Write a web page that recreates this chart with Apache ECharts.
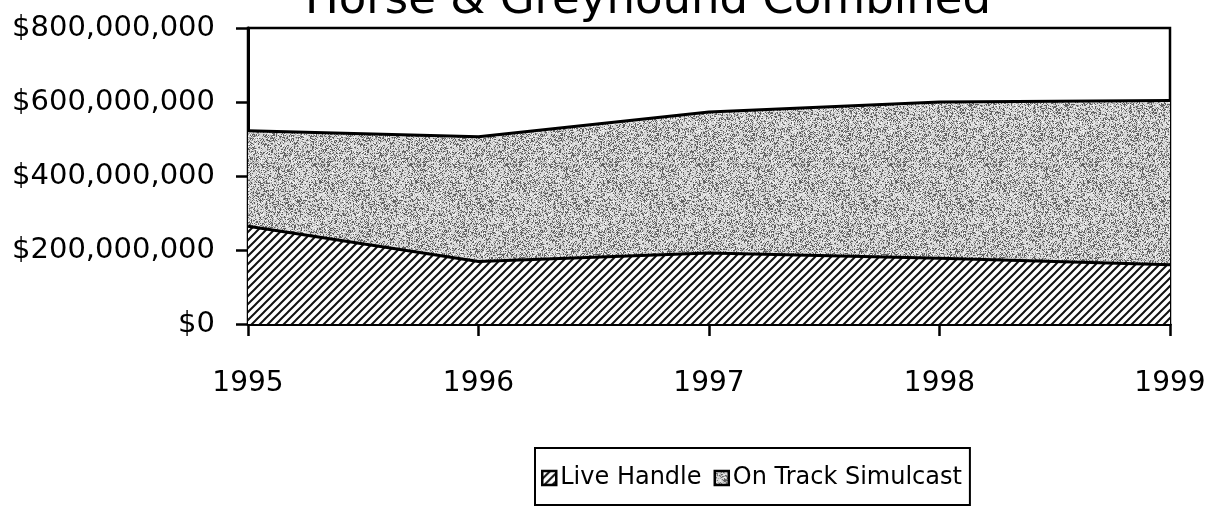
<!DOCTYPE html>
<html>
<head>
<meta charset="utf-8">
<script src="https://cdn.jsdelivr.net/npm/echarts@6/dist/echarts.min.js"></script>
<style>
html,body{margin:0;padding:0;background:#fff;}
#chart{width:1213px;height:509px;}
</style>
</head>
<body>
<div id="chart"></div>
<script>
const years = ['1995', '1996', '1997', '1998', '1999'];
const liveHandle = [264000000, 169000000, 192000000, 178000000, 160000000];
const onTrackSimulcast = [258000000, 337000000, 381000000, 422000000, 444000000];
const seriesNames = ['Live Handle', 'On Track Simulcast'];
const titleText = 'Horse & Greyhound Combined';

function hatchPattern() {
  const c = document.createElement('canvas');
  c.width = 8; c.height = 8;
  const g = c.getContext('2d');
  g.fillStyle = '#fff'; g.fillRect(0, 0, 8, 8);
  g.strokeStyle = '#111'; g.lineWidth = 2;
  g.beginPath();
  g.moveTo(-1, 9); g.lineTo(9, -1);
  g.moveTo(-5, 5); g.lineTo(5, -5);
  g.moveTo(3, 13); g.lineTo(13, 3);
  g.stroke();
  return c;
}
function stipplePattern() {
  const n = 96;
  const c = document.createElement('canvas');
  c.width = n; c.height = n;
  const g = c.getContext('2d');
  g.fillStyle = '#d8d8d8'; g.fillRect(0, 0, n, n);
  let s = 12345;
  const rnd = () => { s = (s * 1103515245 + 12345) & 0x7fffffff; return s / 0x7fffffff; };
  for (let y = 0; y < n; y++) {
    for (let x = 0; x < n; x++) {
      const r = rnd();
      if (r < 0.24) { g.fillStyle = '#606060'; g.fillRect(x, y, 1, 1); }
      else if (r < 0.38) { g.fillStyle = '#a0a0a0'; g.fillRect(x, y, 1, 1); }
      else if (r > 0.88) { g.fillStyle = '#f4f4f4'; g.fillRect(x, y, 1, 1); }
    }
  }
  return c;
}
const hatch = { image: hatchPattern(), repeat: 'repeat' };
const stipple = { image: stipplePattern(), repeat: 'repeat' };

const FONT = 'DejaVu Sans';
const chart = echarts.init(document.getElementById('chart'));
chart.setOption({
  backgroundColor: '#fff',
  animation: false,
  title: {
    text: titleText,
    left: 300,
    top: -26,
    textStyle: { fontFamily: FONT, fontSize: 45, fontWeight: 'normal', color: '#000' }
  },
  legend: {
    data: seriesNames,
    left: 535,
    top: 448,
    orient: 'horizontal',
    icon: 'rect',
    itemWidth: 14,
    itemHeight: 14,
    itemGap: 12,
    padding: [18, 8, 15, 6],
    borderColor: '#000',
    borderWidth: 2,
    textStyle: { fontFamily: FONT, fontSize: 24, color: '#000', padding: [0, 0, 0, -1] },
    itemStyle: { borderColor: '#000', borderWidth: 2.5 }
  },
  grid: {
    left: 248, right: 43, top: 28, bottom: 185,
    show: true, borderColor: '#000', borderWidth: 2.5, backgroundColor: 'transparent',
    containLabel: false
  },
  xAxis: {
    type: 'category',
    data: years,
    boundaryGap: false,
    axisLine: { lineStyle: { color: '#000', width: 3 } },
    axisTick: { show: true, length: 12, alignWithLabel: true, lineStyle: { color: '#000', width: 2.5 } },
    axisLabel: { margin: 46, fontFamily: FONT, fontSize: 28, color: '#000' },
    splitLine: { show: false }
  },
  yAxis: {
    type: 'value',
    min: 0, max: 800000000, interval: 200000000,
    axisLine: { show: true, lineStyle: { color: '#000', width: 3 } },
    axisTick: { show: true, length: 12, lineStyle: { color: '#000', width: 2.5 } },
    axisLabel: {
      margin: 33, fontFamily: FONT, fontSize: 29, color: '#000',
      formatter: v => '$' + v.toLocaleString('en-US')
    },
    splitLine: { show: false }
  },
  series: [
    {
      name: seriesNames[0], type: 'line', stack: 'total', data: liveHandle,
      symbol: 'none', smooth: false,
      lineStyle: { color: '#000', width: 3 },
      itemStyle: { color: hatch, borderColor: '#000', borderWidth: 2.5 },
      areaStyle: { color: hatch, opacity: 1 }
    },
    {
      name: seriesNames[1], type: 'line', stack: 'total', data: onTrackSimulcast,
      symbol: 'none', smooth: false,
      lineStyle: { color: '#000', width: 3 },
      itemStyle: { color: stipple, borderColor: '#000', borderWidth: 2.5 },
      areaStyle: { color: stipple, opacity: 1 }
    }
  ]
});
</script>
</body>
</html>
